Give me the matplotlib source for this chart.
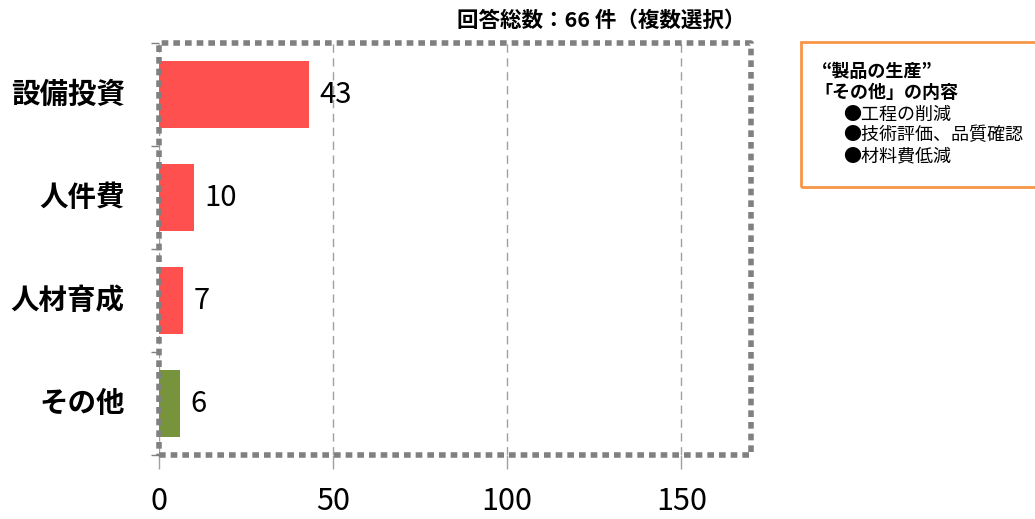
import matplotlib.pyplot as plt
from matplotlib.patches import Rectangle
from matplotlib.lines import Line2D

plt.rcParams['font.family'] = ['Noto Sans CJK JP', 'DejaVu Sans']

categories = ['設備投資', '人件費', '人材育成', 'その他']
values = [43, 10, 7, 6]
bar_colors = ['#FF5050', '#FF5050', '#FF5050', '#77933C']
x_ticks = [0, 50, 100, 150]
title_text = '回答総数：66 件（複数選択）'
note_head = ['“製品の生産”', '「その他」の内容']
note_items = ['●工程の削減', '●技術評価、品質確認', '●材料費低減']

fig = plt.figure(figsize=(10.35, 5.19), dpi=100)
ax = fig.add_axes([0.1536, 0.1233, 0.5720, 0.7938])

pos = list(range(len(categories)))
ax.barh(pos, values, height=0.65, color=bar_colors, zorder=2)
for p, v in zip(pos, values):
    ax.text(v + 3, p, str(v), va='center', ha='left', fontsize=21, color='black')

ax.set_xlim(0, 170)
ax.set_ylim(3.5, -0.5)
ax.set_xticks(x_ticks)
ax.set_xticklabels([str(t) for t in x_ticks], fontsize=22)
ax.set_yticks([-0.5, 0.5, 1.5, 2.5, 3.5])
ax.set_yticklabels([])
for p, c in zip(pos, categories):
    ax.text(-0.058, p, c, transform=ax.get_yaxis_transform(), ha='right', va='center',
            fontsize=20.5, fontweight='bold')

ax.tick_params(axis='y', length=6, color='#808080', width=1)
ax.tick_params(axis='x', length=10, color='#A0A0A0', width=1, pad=12)
ax.grid(axis='x', color='#A0A0A0', linestyle=(0, (6, 4)), linewidth=1, zorder=0)

# dotted gray frame instead of the plain spines
for s in ax.spines.values():
    s.set_visible(False)
fx = [0, 1, 1, 0, 0]
fy = [0, 0, 1, 1, 0]
ax.add_line(Line2D(fx, fy, transform=ax.transAxes, color='#808080', linewidth=4,
                   dashes=(1.2, 0.9), solid_capstyle='butt', dash_capstyle='butt',
                   clip_on=False, zorder=3))

fig.text(745 / 1035, 1 - 20 / 519, title_text, ha='right', va='center',
         fontsize=15.5, fontweight='bold')

# note box on the right
fig.patches.append(Rectangle((801 / 1035, 1 - 187 / 519), 260 / 1035, 145 / 519,
                             transform=fig.transFigure, fill=False,
                             edgecolor='#F79646', linewidth=2))
fig.text(822 / 1035, 1 - 72 / 519, note_head[0], fontsize=13, fontweight='bold', va='center')
fig.text(814 / 1035, 1 - 93 / 519, note_head[1], fontsize=13, fontweight='bold', va='center')
for i, item in enumerate(note_items):
    fig.text(843 / 1035, 1 - (115 + i * 20.5) / 519, item, fontsize=13, va='center')

fig.savefig('out.png', dpi=100)
